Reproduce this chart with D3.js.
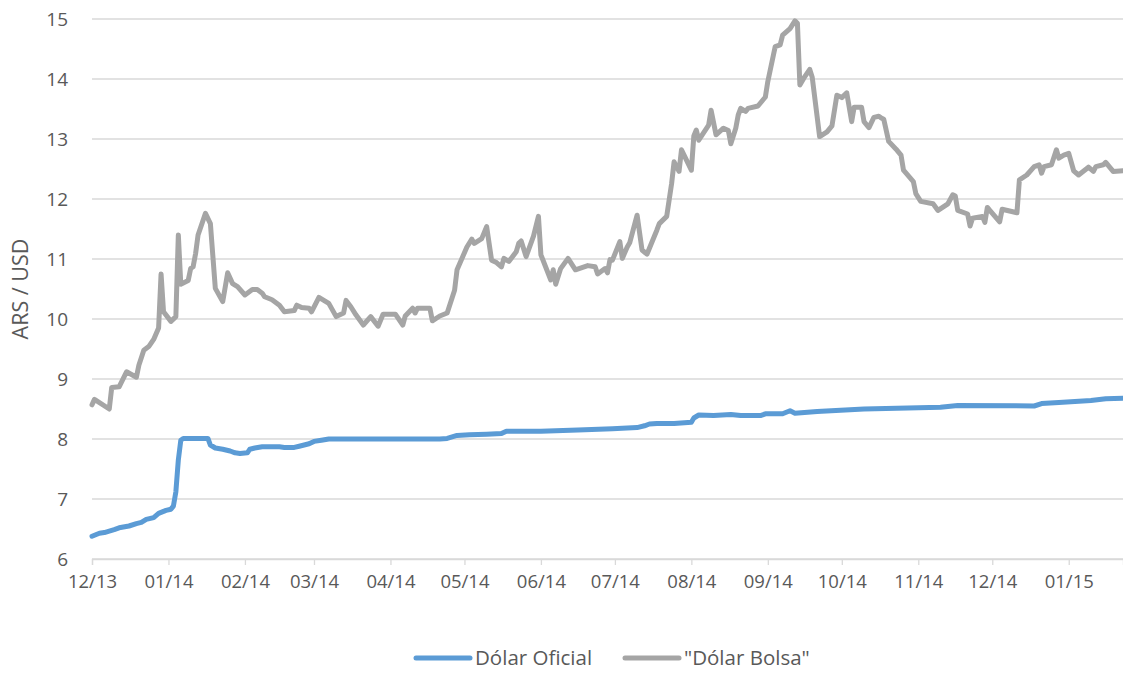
<!DOCTYPE html>
<html><head><meta charset="utf-8">
<script src="https://cdn.jsdelivr.net/npm/d3@7"></script>
<style>
body{margin:0;background:#fff}
text{font-family:"Open Sans",sans-serif;fill:#595959}
</style>
</head><body>
<svg id="chart" width="1123" height="673"></svg>
<script>
const seriesNames = ["Dólar Oficial", "\"Dólar Bolsa\""];

const oficialDates = ["2013-12-01","2013-12-04","2013-12-06","2013-12-10","2013-12-12","2013-12-16","2013-12-19","2013-12-21","2013-12-23","2013-12-26","2013-12-28","2013-12-31","2014-01-02","2014-01-03","2014-01-04","2014-01-05","2014-01-06","2014-01-07","2014-01-17","2014-01-18","2014-01-20","2014-01-23","2014-01-26","2014-01-28","2014-01-30","2014-02-02","2014-02-03","2014-02-05","2014-02-08","2014-02-15","2014-02-17","2014-02-21","2014-02-23","2014-02-27","2014-03-01","2014-03-04","2014-03-07","2014-04-21","2014-04-24","2014-04-28","2014-05-03","2014-05-10","2014-05-16","2014-05-18","2014-06-01","2014-06-16","2014-06-30","2014-07-10","2014-07-13","2014-07-15","2014-07-18","2014-07-25","2014-08-01","2014-08-02","2014-08-04","2014-08-10","2014-08-17","2014-08-21","2014-08-29","2014-08-31","2014-09-07","2014-09-10","2014-09-12","2014-09-21","2014-10-10","2014-11-10","2014-11-17","2014-12-18","2014-12-21","2014-12-28","2015-01-10","2015-01-16","2015-01-23"];
const oficialValues = [6.38,6.43,6.44,6.49,6.52,6.55,6.59,6.61,6.66,6.69,6.76,6.81,6.83,6.88,7.12,7.65,7.98,8.01,8.01,7.90,7.85,7.83,7.80,7.77,7.76,7.77,7.83,7.85,7.87,7.87,7.86,7.86,7.88,7.92,7.96,7.98,8.00,8.00,8.01,8.06,8.07,8.08,8.09,8.13,8.13,8.15,8.17,8.19,8.22,8.25,8.26,8.26,8.28,8.35,8.40,8.39,8.41,8.39,8.39,8.42,8.42,8.47,8.43,8.46,8.50,8.53,8.56,8.55,8.59,8.61,8.64,8.67,8.68];

const bolsaDates = ["2013-12-01","2013-12-02","2013-12-08","2013-12-09","2013-12-12","2013-12-15","2013-12-19","2013-12-20","2013-12-22","2013-12-24","2013-12-26","2013-12-28","2013-12-29","2013-12-30","2014-01-02","2014-01-04","2014-01-05","2014-01-06","2014-01-09","2014-01-10","2014-01-11","2014-01-12","2014-01-13","2014-01-16","2014-01-18","2014-01-20","2014-01-23","2014-01-25","2014-01-27","2014-01-29","2014-02-01","2014-02-04","2014-02-06","2014-02-08","2014-02-09","2014-02-12","2014-02-15","2014-02-17","2014-02-21","2014-02-22","2014-02-24","2014-02-27","2014-02-28","2014-03-03","2014-03-07","2014-03-10","2014-03-13","2014-03-14","2014-03-16","2014-03-18","2014-03-21","2014-03-24","2014-03-27","2014-03-29","2014-04-03","2014-04-06","2014-04-07","2014-04-10","2014-04-11","2014-04-12","2014-04-17","2014-04-18","2014-04-21","2014-04-24","2014-04-27","2014-04-28","2014-05-02","2014-05-04","2014-05-05","2014-05-08","2014-05-10","2014-05-12","2014-05-14","2014-05-16","2014-05-17","2014-05-19","2014-05-22","2014-05-23","2014-05-24","2014-05-26","2014-05-29","2014-05-31","2014-06-01","2014-06-05","2014-06-06","2014-06-07","2014-06-09","2014-06-12","2014-06-15","2014-06-20","2014-06-23","2014-06-24","2014-06-27","2014-06-28","2014-06-29","2014-06-30","2014-07-03","2014-07-04","2014-07-06","2014-07-07","2014-07-10","2014-07-12","2014-07-14","2014-07-18","2014-07-19","2014-07-22","2014-07-24","2014-07-25","2014-07-27","2014-07-28","2014-08-01","2014-08-02","2014-08-03","2014-08-04","2014-08-08","2014-08-09","2014-08-11","2014-08-14","2014-08-16","2014-08-17","2014-08-19","2014-08-20","2014-08-21","2014-08-23","2014-08-24","2014-08-28","2014-08-30","2014-08-31","2014-09-01","2014-09-04","2014-09-06","2014-09-07","2014-09-10","2014-09-12","2014-09-13","2014-09-14","2014-09-16","2014-09-18","2014-09-19","2014-09-22","2014-09-25","2014-09-27","2014-09-29","2014-10-01","2014-10-03","2014-10-05","2014-10-06","2014-10-09","2014-10-10","2014-10-12","2014-10-14","2014-10-16","2014-10-17","2014-10-18","2014-10-20","2014-10-23","2014-10-25","2014-10-26","2014-10-30","2014-10-31","2014-11-02","2014-11-07","2014-11-09","2014-11-13","2014-11-15","2014-11-16","2014-11-17","2014-11-21","2014-11-22","2014-11-23","2014-11-27","2014-11-28","2014-11-29","2014-11-30","2014-12-04","2014-12-05","2014-12-11","2014-12-12","2014-12-15","2014-12-18","2014-12-20","2014-12-21","2014-12-22","2014-12-25","2014-12-27","2014-12-28","2014-12-30","2015-01-01","2015-01-03","2015-01-05","2015-01-09","2015-01-11","2015-01-12","2015-01-15","2015-01-16","2015-01-18","2015-01-19","2015-01-23"];
const bolsaValues = [8.57,8.66,8.50,8.86,8.87,9.12,9.03,9.23,9.48,9.54,9.66,9.85,10.75,10.12,9.96,10.04,11.40,10.58,10.64,10.84,10.87,11.09,11.40,11.76,11.59,10.51,10.29,10.77,10.59,10.54,10.40,10.49,10.49,10.43,10.37,10.32,10.23,10.12,10.14,10.23,10.19,10.18,10.12,10.36,10.26,10.04,10.10,10.31,10.20,10.07,9.90,10.04,9.88,10.08,10.08,9.90,10.05,10.18,10.10,10.18,10.18,9.97,10.05,10.10,10.48,10.82,11.20,11.33,11.26,11.34,11.54,10.98,10.94,10.87,11.01,10.96,11.12,11.26,11.30,11.04,11.38,11.71,11.07,10.65,10.82,10.58,10.84,11.01,10.82,10.89,10.87,10.75,10.84,10.77,10.99,10.98,11.29,11.01,11.20,11.27,11.73,11.15,11.08,11.48,11.59,11.71,12.26,12.62,12.46,12.82,12.48,13.05,13.15,12.98,13.23,13.48,13.07,13.18,13.14,12.92,13.18,13.40,13.51,13.46,13.51,13.55,13.65,13.70,13.96,14.54,14.57,14.73,14.84,14.97,14.93,13.90,14.04,14.16,14.03,13.04,13.12,13.22,13.73,13.69,13.77,13.29,13.53,13.53,13.29,13.19,13.36,13.38,13.35,13.33,12.96,12.83,12.73,12.48,12.29,12.09,11.96,11.92,11.81,11.92,12.07,12.05,11.81,11.75,11.55,11.68,11.71,11.61,11.86,11.81,11.62,11.83,11.77,12.32,12.40,12.54,12.57,12.43,12.54,12.57,12.82,12.68,12.73,12.76,12.47,12.40,12.53,12.46,12.54,12.57,12.61,12.51,12.46,12.47];

const yTickValues = [6,7,8,9,10,11,12,13,14,15];
const xTickDates = ["2013-12-01","2014-01-01","2014-02-01","2014-03-01","2014-04-01","2014-05-01","2014-06-01","2014-07-01","2014-08-01","2014-09-01","2014-10-01","2014-11-01","2014-12-01","2015-01-01"];
const xDomain = ["2013-12-01","2015-01-23"];
const yAxisTitle = "ARS / USD";

const parse = d3.utcParse("%Y-%m-%d");
const fmt = d3.utcFormat("%m/%y");
const svg = d3.select("#chart");
const L = 92, R = 1123, T = 19, B = 559;

const x = d3.scaleUtc().domain(xDomain.map(parse)).range([L, R]);
const y = d3.scaleLinear().domain([6, 15]).range([B, T]);

// gridlines
svg.append("g").selectAll("line").data(yTickValues).join("line")
  .attr("x1", L).attr("x2", R)
  .attr("y1", d => y(d)).attr("y2", d => y(d))
  .attr("stroke", "#D9D9D9").attr("stroke-width", 1.3);

// y axis labels
const yAxis = d3.axisLeft(y).tickValues(yTickValues).tickSize(0).tickPadding(0).tickFormat(d3.format("d"));
const gy = svg.append("g").attr("transform", `translate(${L - 24},0)`).call(yAxis);
gy.select(".domain").remove();
gy.selectAll("text").attr("font-size", 19).style("font-family", "'Open Sans',sans-serif").attr("fill", "#595959").attr("dy", "0.35em");

// x axis
const xAxis = d3.axisBottom(x).tickValues(xTickDates.map(parse)).tickSize(6).tickPadding(23).tickFormat(fmt);
const gx = svg.append("g").attr("transform", `translate(0,${B})`).call(xAxis);
gx.select(".domain").attr("stroke", "#D9D9D9").attr("stroke-width", 1.3);
gx.selectAll(".tick line").attr("stroke", "#D9D9D9").attr("stroke-width", 1.3);
gx.selectAll("text").attr("font-size", 18.5).style("font-family", "'Open Sans',sans-serif").attr("fill", "#595959").attr("dy", 0);

// y title
svg.append("text").attr("transform", `translate(28,${(T + B) / 2}) rotate(-90)`)
  .attr("text-anchor", "middle").attr("font-size", 21.5).text(yAxisTitle);

const line = d3.line().x(d => x(d.date)).y(d => y(d.value)).curve(d3.curveLinear);
const oficial = oficialDates.map((d, i) => ({date: parse(d), value: oficialValues[i]}));
const bolsa = bolsaDates.map((d, i) => ({date: parse(d), value: bolsaValues[i]}));
const colors = ["#5B9BD5", "#A5A5A5"];

svg.append("path").datum(bolsa).attr("d", line).attr("fill", "none")
  .attr("stroke", colors[1]).attr("stroke-width", 5).attr("stroke-linejoin", "round").attr("stroke-linecap", "round");
svg.append("path").datum(oficial).attr("d", line).attr("fill", "none")
  .attr("stroke", colors[0]).attr("stroke-width", 5).attr("stroke-linejoin", "round").attr("stroke-linecap", "round");

// legend
const legendItems = [{x: 416, name: seriesNames[0], c: colors[0]}, {x: 625, name: seriesNames[1], c: colors[1]}];
const lg = svg.append("g").attr("transform", "translate(0,658)");
legendItems.forEach(it => {
  lg.append("line").attr("x1", it.x).attr("x2", it.x + 54).attr("y1", 0).attr("y2", 0)
    .attr("stroke", it.c).attr("stroke-width", 5).attr("stroke-linecap", "round");
  lg.append("text").attr("x", it.x + 59).attr("y", 0).attr("dy", "0.35em").attr("font-size", 20.5).text(it.name);
});
</script>
</body></html>
